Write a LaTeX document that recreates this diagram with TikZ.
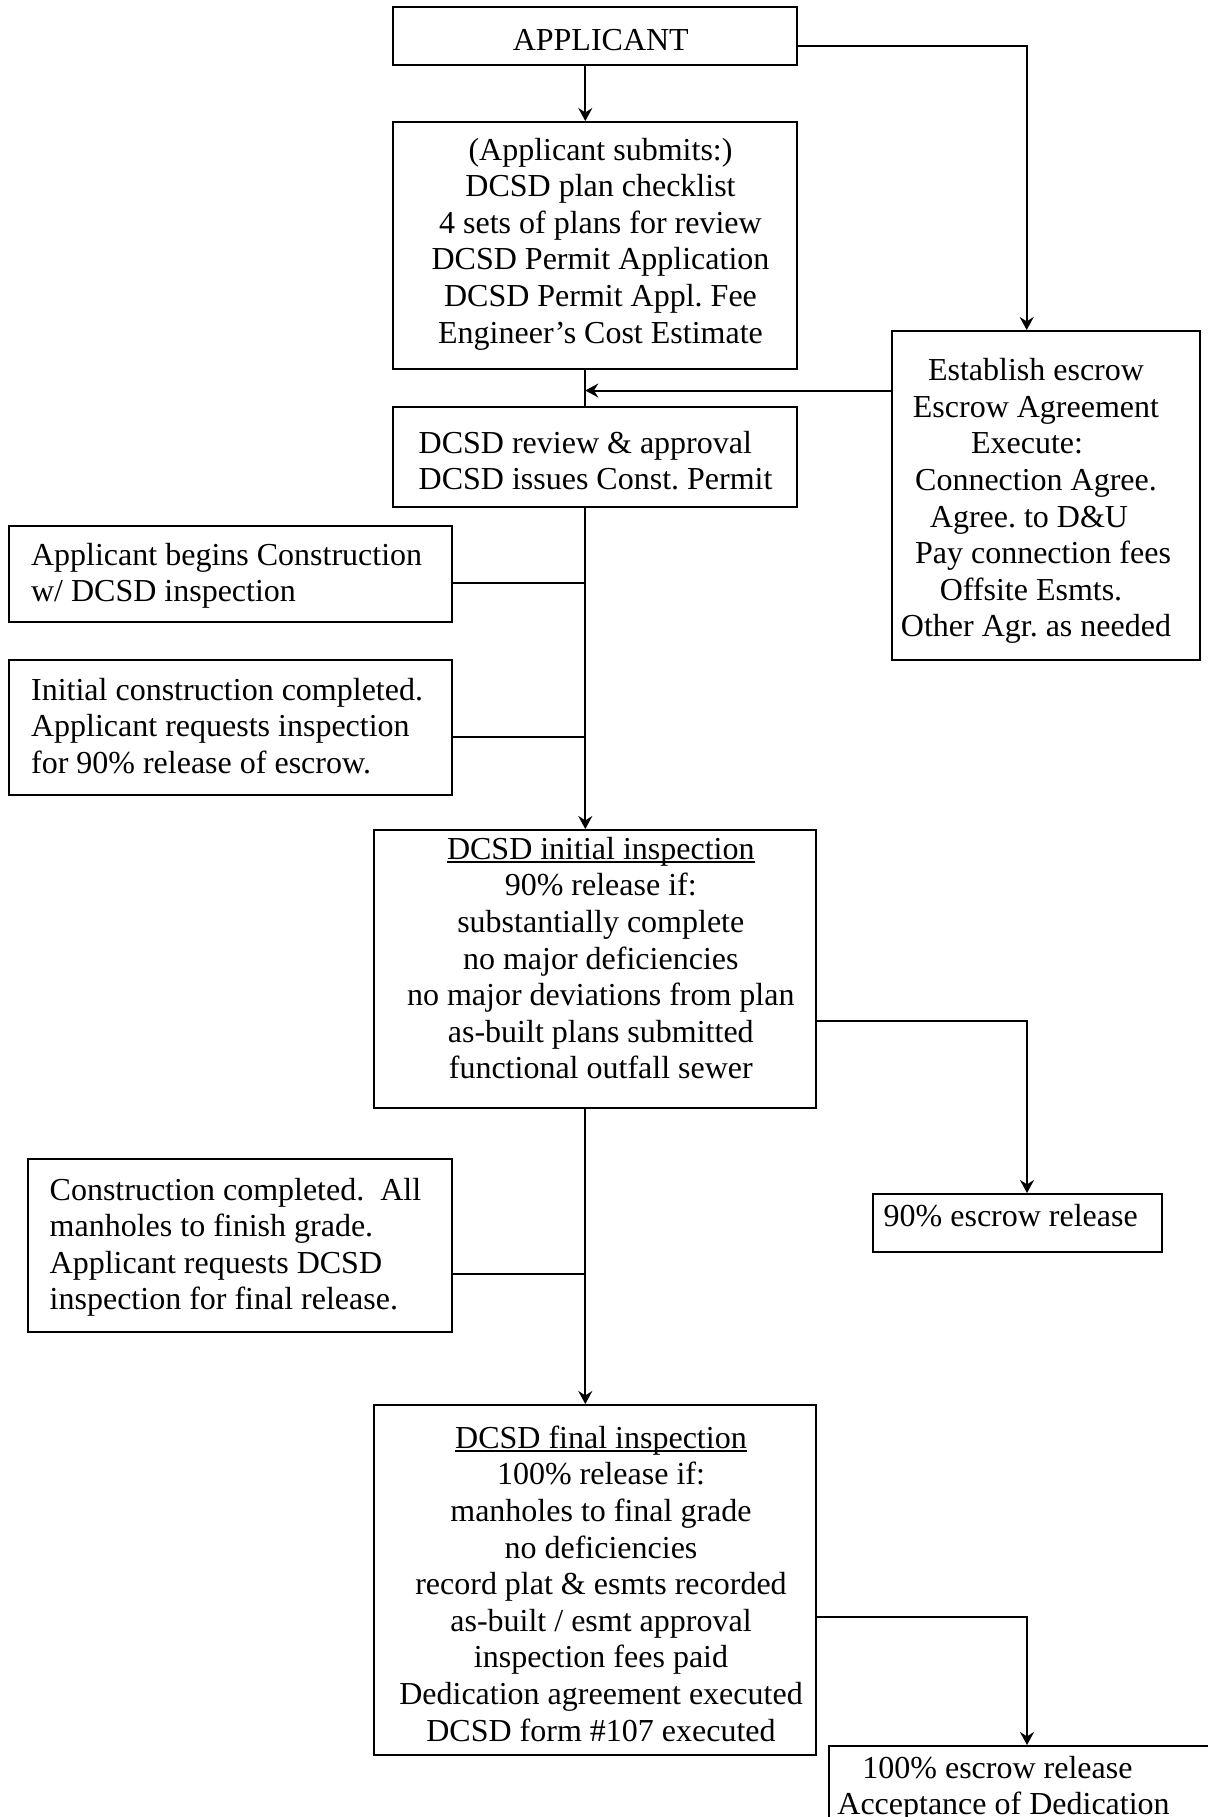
\documentclass[tikz,border=0pt]{standalone}
\usepackage{fontspec}
\setmainfont{Liberation Serif}
\usetikzlibrary{arrows.meta}
\frenchspacing
\newcommand\myul[1]{\setbox0\hbox{#1}\rlap{\rule[-1.6pt]{\wd0}{0.7pt}}\box0}
\newcommand\ctab[1]{\begin{tabular}[t]{@{}c@{}}#1\end{tabular}}
\newcommand\ltab[1]{\begin{tabular}[t]{@{}l@{}}#1\end{tabular}}
\begin{document}
\begin{tikzpicture}[x=0.5pt,y=-0.5pt,
  box/.style={draw,line width=1pt,rectangle,inner sep=0pt},
  txt/.style={inner sep=0pt,anchor=base,font=\fontsize{16}{18.3}\selectfont},
  ltxt/.style={inner sep=0pt,anchor=base west,font=\fontsize{16}{18.3}\selectfont},
  conn/.style={line width=1pt},
  arr/.style={line width=1pt,-{Stealth[length=6.5pt,width=7pt,inset=2.2pt]}}]
\clip (0,0) rectangle (1208,1817);
\fill[white] (0,0) rectangle (1208,1817);
% trunk coordinate
\coordinate (trunk) at (585.3,0);
% boxes
\node[box,minimum width=202pt,minimum height=29pt] (app) at (595,36) {};
\node[box,minimum width=202pt,minimum height=123.5pt] (sub) at (595,245.5) {};
\node[box,minimum width=202pt,minimum height=50pt] (rev) at (595,457) {};
\node[box,minimum width=154pt,minimum height=164.5pt] (esc) at (1046,495.5) {};
\node[box,minimum width=221.5pt,minimum height=48pt] (beg) at (230.5,574) {};
\node[box,minimum width=221.5pt,minimum height=67.5pt] (ini) at (230.5,727.5) {};
\node[box,minimum width=221pt,minimum height=139pt] (insp1) at (595,969) {};
\node[box,minimum width=144.5pt,minimum height=29pt] (rel90) at (1017.5,1223) {};
\node[box,minimum width=212pt,minimum height=86.5pt] (comp) at (240,1245.5) {};
\node[box,minimum width=221pt,minimum height=175pt] (insp2) at (595,1580) {};
\node[box,minimum width=215.5pt,minimum height=67pt] (rel100) at (1044.5,1813) {};
% texts
\node[txt] (tapp) at (600.8,50.7) {APPLICANT};
\node[txt] (tsub) at (600.5,160) {\ctab{(Applicant submits:)\\DCSD plan checklist\\4 sets of plans for review\\DCSD Permit Application\\DCSD Permit Appl. Fee\\Engineer’s Cost Estimate}};
\node[ltxt] (trev) at (418.3,453.3) {\ltab{DCSD review \& approval\\DCSD issues Const. Permit}};
\node[txt] (tesc) at (1036,380.7) {\ctab{Establish escrow\\Escrow Agreement\\Execute:\hspace*{9pt}\\Connection Agree.\\Agree. to D\&U\hspace*{7pt}\\\hspace*{7pt}Pay connection fees\\Offsite Esmts.\hspace*{5pt}\\Other Agr. as needed}};
\node[ltxt] (tbeg) at (30.7,565) {\ltab{Applicant begins Construction\\w/ DCSD inspection}};
\node[ltxt] (tini) at (30.7,700) {\ltab{Initial construction completed.\\Applicant requests inspection\\for 90\% release of escrow.}};
\node[txt] (tinsp1) at (600.8,859.3) {\ctab{\myul{DCSD initial inspection}\\90\% release if:\\substantially complete\\no major deficiencies\\no major deviations from plan\\as-built plans submitted\\functional outfall sewer}};
\node[ltxt] (trel90) at (883.3,1226.7) {90\% escrow release};
\node[ltxt] (tcomp) at (49.3,1200) {\ltab{Construction completed.\ \ All\\manholes to finish grade.\\Applicant requests DCSD\\inspection for final release.}};
\node[txt] (tinsp2) at (601,1448.3) {\ctab{\myul{DCSD final inspection}\\100\% release if:\\manholes to final grade\\no deficiencies\\record plat \& esmts recorded\\as-built / esmt approval\\inspection fees paid\\Dedication agreement executed\\DCSD form \#107 executed}};
\node[ltxt] (trel100) at (837,1778.3) {\ltab{\hspace*{12.5pt}100\% escrow release\\Acceptance of Dedication}};
% connector coordinates
\coordinate (a1) at (1026.7,45.7);
\coordinate (j1) at (585.3,390.5);
\coordinate (jb) at (585.3,582.7);
\coordinate (ji) at (585.3,736.7);
\coordinate (r1) at (1027,1021);
\coordinate (jc) at (585.3,1274.3);
\coordinate (r2) at (1027,1617);
% connectors
\draw[arr] (app.south -| trunk) -- (sub.north -| trunk);
\draw[arr] (app.east |- a1) -- (a1) -- (esc.north -| a1);
\draw[conn] (sub.south -| trunk) -- (rev.north -| trunk);
\draw[arr] (esc.west |- j1) -- (j1);
\draw[arr] (rev.south -| trunk) -- (insp1.north -| trunk);
\draw[conn] (beg.east |- jb) -- (jb);
\draw[conn] (ini.east |- ji) -- (ji);
\draw[arr] (insp1.east |- r1) -- (r1) -- (rel90.north -| r1);
\draw[arr] (insp1.south -| trunk) -- (insp2.north -| trunk);
\draw[conn] (comp.east |- jc) -- (jc);
\draw[arr] (insp2.east |- r2) -- (r2) -- (rel100.north -| r2);
\end{tikzpicture}
\end{document}
